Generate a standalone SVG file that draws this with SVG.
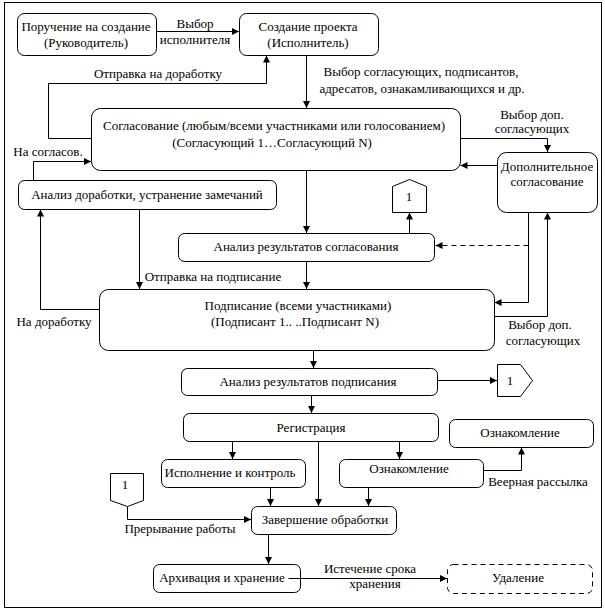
<svg xmlns="http://www.w3.org/2000/svg" width="605" height="611" viewBox="0 0 605 611">
<defs>
<marker id="ah" markerWidth="8" markerHeight="8" refX="7" refY="4" orient="auto" markerUnits="userSpaceOnUse">
<path d="M0,0.5 L7,4 L0,7.5 z" fill="#000"/>
</marker>
</defs>
<style>
.box{fill:#fff;stroke:#000;stroke-width:1}
.dash{fill:#fff;stroke:#000;stroke-width:1;stroke-dasharray:5,4}
text{font-family:"Liberation Serif","DejaVu Serif","Times New Roman",serif;font-size:13px;fill:#000;text-anchor:middle}
.c{fill:none;stroke:#000;stroke-width:1;marker-end:url(#ah)}
.cd{fill:none;stroke:#000;stroke-width:1;stroke-dasharray:5,4;marker-end:url(#ah)}
</style>
<rect x="0" y="0" width="605" height="611" fill="#fff"/>
<rect x="4.5" y="2.5" width="597" height="605" fill="none" stroke="#000" stroke-width="1"/>

<g id="connectors" font-family="Liberation Serif, serif">
<path class="c" d="M156.5,31.5 H239"/>
<path class="c" d="M91.5,138.5 H48.5 V83.5 H266.5 V55.5"/>
<path class="c" d="M306.5,55.5 V108"/>
<path class="c" d="M33.5,180.5 V161.5 H91"/>
<path class="c" d="M460.5,138.5 H547.5 V152"/>
<path class="c" d="M497.5,165.5 H460.5"/>
<path class="c" d="M306.5,170.5 V233"/>
<path class="c" d="M409.5,233.5 V212.5"/>
<path class="c" d="M139.5,209.5 V289"/>
<path class="c" d="M99.5,309.5 H40.5 V209.5"/>
<path class="c" d="M306.5,261.5 V289"/>
<path class="c" d="M528.5,212.5 V302.5 H494.5"/>
<path class="cd" d="M528.5,245.5 H435.5"/>
<path class="c" d="M488.5,316.5 H547.5 V212.5"/>
<path class="c" d="M313.5,350.5 V368"/>
<path class="c" d="M437.5,380.5 H497"/>
<path class="c" d="M311.5,395.5 V413"/>
<path class="c" d="M232.5,441.5 V459"/>
<path class="c" d="M399.5,441.5 V459"/>
<path class="c" d="M318.5,441.5 V506"/>
<path class="c" d="M270.5,487.5 V506"/>
<path class="c" d="M368.5,487.5 V506"/>
<path class="c" d="M483.5,470.5 H521.5 V447.5"/>
<path class="c" d="M127.5,506.5 V519.5 H251"/>
<path class="c" d="M268.5,534.5 V564"/>
<path class="c" d="M288.5,578.5 H447"/>
<text x="195" y="28">Выбор</text>
<text x="195" y="44">исполнителя</text>
<text x="158" y="78">Отправка на доработку</text>
<text x="421" y="76">Выбор согласующих, подписантов,</text>
<text x="422" y="93">адресатов, ознакамливающихся и др.</text>
<text x="532" y="119">Выбор доп.</text>
<text x="532" y="133">согласующих</text>
<text x="48" y="156">На согласов.</text>
<text x="213" y="281">Отправка на подписание</text>
<text x="54" y="326">На доработку</text>
<text x="540" y="329">Выбор доп.</text>
<text x="543" y="345">согласующих</text>
<text x="538" y="486">Веерная рассылка</text>
<text x="180" y="533">Прерывание работы</text>
<text x="370" y="573">Истечение срока</text>
<text x="375" y="588">хранения</text>
</g>

<g id="n_poruchenie">
<rect class="box" x="17.5" y="13.5" width="139" height="42" rx="7"/>
<text x="86" y="31">Поручение на создание</text>
<text x="86" y="47">(Руководитель)</text>
</g>
<g id="n_sozdanie">
<rect class="box" x="239.5" y="13.5" width="139" height="42" rx="7"/>
<text x="308" y="31">Создание проекта</text>
<text x="308" y="47">(Исполнитель)</text>
</g>
<g id="n_soglasovanie">
<rect class="box" x="91.5" y="108.5" width="369" height="62" rx="9"/>
<text x="274" y="130">Согласование (любым/всеми участниками или голосованием)</text>
<text x="272" y="147">(Согласующий 1…Согласующий N)</text>
</g>
<g id="n_analiz_dorabotki">
<rect class="box" x="18.5" y="180.5" width="258" height="29" rx="6"/>
<text x="147" y="199">Анализ доработки, устранение замечаний</text>
</g>
<g id="n_dop">
<rect class="box" x="497.5" y="152.5" width="100" height="60" rx="9"/>
<text x="547" y="171">Дополнительное</text>
<text x="547" y="186">согласование</text>
</g>
<g id="n_off1_up">
<path class="box" d="M392.5,186.5 L409.5,179.5 L426.5,186.5 V212.5 H392.5 Z"/>
<text x="409" y="201">1</text>
</g>
<g id="n_analiz_sogl">
<rect class="box" x="178.5" y="233.5" width="256" height="28" rx="6"/>
<text x="306" y="251">Анализ результатов согласования</text>
</g>
<g id="n_podpisanie">
<rect class="box" x="99.5" y="289.5" width="395" height="61" rx="9"/>
<text x="298" y="310">Подписание (всеми участниками)</text>
<text x="295" y="326">(Подписант 1.. ..Подписант N)</text>
</g>
<g id="n_analiz_podp">
<rect class="box" x="181.5" y="368.5" width="256" height="27" rx="6"/>
<text x="308" y="386">Анализ результатов подписания</text>
</g>
<g id="n_off1_right">
<path class="box" d="M497.5,364.5 H520.5 L532.5,380.5 L520.5,396.5 H497.5 Z"/>
<text x="510" y="385">1</text>
</g>
<g id="n_registracia">
<rect class="box" x="183.5" y="413.5" width="255" height="28" rx="6"/>
<text x="311" y="432">Регистрация</text>
</g>
<g id="n_oznak_top">
<rect class="box" x="449.5" y="419.5" width="144" height="28" rx="6"/>
<text x="520" y="437">Ознакомление</text>
</g>
<g id="n_ispolnenie">
<rect class="box" x="161.5" y="459.5" width="144" height="28" rx="6"/>
<text x="230" y="477">Исполнение и контроль</text>
</g>
<g id="n_oznak_mid">
<rect class="box" x="339.5" y="459.5" width="144" height="28" rx="6"/>
<text x="409" y="473">Ознакомление</text>
</g>
<g id="n_off1_down">
<path class="box" d="M110.5,473.5 H143.5 V500.5 L127.5,506.5 L110.5,500.5 Z"/>
<text x="125" y="489">1</text>
</g>
<g id="n_zavershenie">
<rect class="box" x="251.5" y="506.5" width="145" height="28" rx="6"/>
<text x="325" y="524">Завершение обработки</text>
</g>
<g id="n_arhivacia">
<rect class="box" x="153.5" y="564.5" width="147" height="28" rx="6"/>
<text x="222" y="582">Архивация и хранение</text>
</g>
<path d="M288.5,578.5 H300.5" stroke="#000" stroke-width="1"/>
<g id="n_udalenie">
<rect class="dash" x="447.5" y="564.5" width="145" height="29" rx="6"/>
<text x="518" y="582">Удаление</text>
</g>
</svg>
